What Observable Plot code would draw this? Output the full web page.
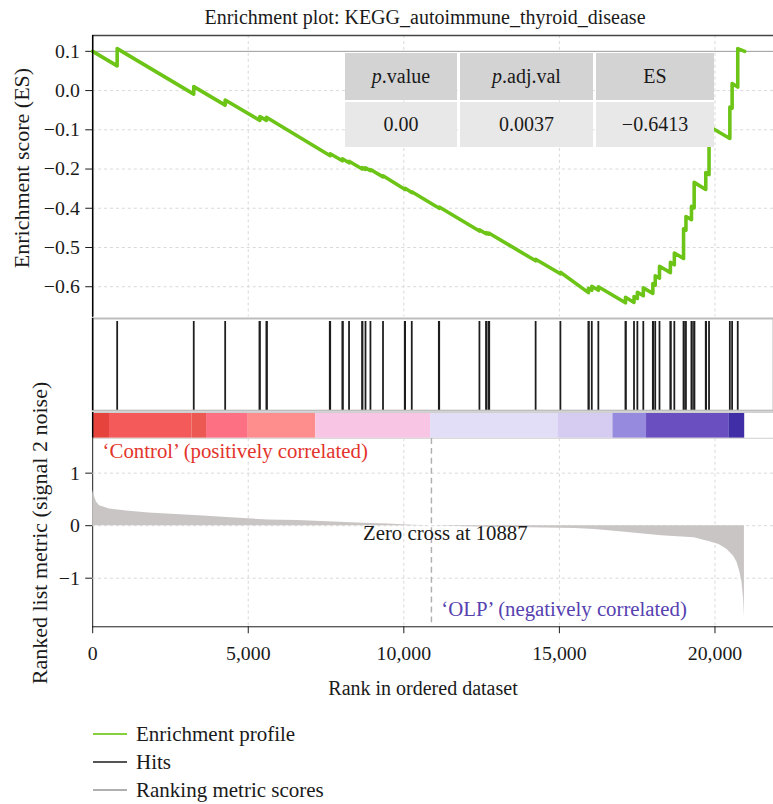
<!DOCTYPE html>
<html>
<head>
<meta charset="utf-8">
<script src="https://cdn.jsdelivr.net/npm/d3@7"></script>
<script src="https://cdn.jsdelivr.net/npm/@observablehq/plot@0.6"></script>
<style>
  html, body { margin: 0; padding: 0; background: #fff; overflow: hidden; }
  #root { position: relative; width: 773px; height: 804px; overflow: hidden; background: #fff;
          font-family: "Liberation Serif", Tinos, "Times New Roman", Times, "DejaVu Serif", "Noto Serif", FreeSerif, serif; color: #1a1a1a; }
  #root svg text { font-family: "Liberation Serif", Tinos, "Times New Roman", Times, "DejaVu Serif", "Noto Serif", FreeSerif, serif; }
  .abs { position: absolute; }
  .txt { white-space: nowrap; }
  .cell { position: absolute; display: flex; align-items: center; justify-content: center; font-size: 20px; }
  .leg { position: absolute; left: 93px; display: flex; align-items: center; font-size: 21px; height: 26px; }
  .leg span.l { display: inline-block; width: 34px; height: 0; margin-right: 9px; }
</style>
</head>
<body>
<div id="root"></div>
<script>
// ---------------- data ----------------
const title = "Enrichment plot: KEGG_autoimmune_thyroid_disease";

// running enrichment score (rank, ES)
const esRank = [0, 787, 787, 3248, 3248, 4258, 4258, 5373, 5373, 5583, 5583, 7634, 7634, 8025, 8025,
  8239, 8239, 8662, 8662, 8768, 8768, 8927, 8927, 9331, 9331, 10041, 10041, 10255, 10255, 11137, 11137,
  12430, 12430, 12643, 12643, 12729, 12729, 14236, 14236, 15032, 15032, 15933, 15933, 16041, 16041,
  16252, 16252, 17124, 17124, 17398, 17398, 17506, 17506, 17697, 17697, 18003, 18003, 18080, 18080,
  18217, 18217, 18567, 18567, 18694, 18694, 18990, 18990, 19067, 19067, 19245, 19245, 19331, 19331,
  19704, 19704, 19809, 19809, 20478, 20478, 20551, 20551, 20732, 20732, 20955];
const esValue = [0, -0.037, 0.007, -0.109, -0.090, -0.137, -0.124, -0.176, -0.166, -0.176, -0.168, -0.266, -0.261, -0.279, -0.274,
  -0.284, -0.280, -0.300, -0.296, -0.301, -0.297, -0.304, -0.301, -0.320, -0.317, -0.352, -0.349, -0.360, -0.358, -0.400, -0.397,
  -0.458, -0.455, -0.465, -0.462, -0.466, -0.463, -0.534, -0.530, -0.567, -0.563, -0.615, -0.604, -0.609, -0.599,
  -0.609, -0.600, -0.641, -0.627, -0.640, -0.625, -0.630, -0.614, -0.623, -0.603, -0.617, -0.592, -0.596, -0.572,
  -0.578, -0.548, -0.564, -0.538, -0.544, -0.514, -0.528, -0.452, -0.456, -0.421, -0.429, -0.395, -0.399, -0.334,
  -0.352, -0.309, -0.314, -0.191, -0.222, -0.142, -0.145, -0.082, -0.091, 0.007, 0.0];

// hit positions (rank of gene-set members)
const hits = [787, 3248, 4258, 5360, 5373, 5583, 5600, 7620, 7634, 8025, 8040, 8239, 8662, 8670, 8768,
  8927, 9331, 10030, 10041, 10255, 11125, 11137, 12430, 12643, 12660, 12729, 12745, 14236, 15032,
  15933, 15945, 16041, 16252, 17124, 17135, 17398, 17506, 17697, 18003, 18015, 18080, 18217, 18567, 18580,
  18694, 18990, 19000, 19067, 19245, 19255, 19331, 19340, 19704, 19715, 19809, 20478, 20551, 20732];

// colour bar of the ranked list (segments, level of correlation)
const segStart = [0, 540, 3190, 3660, 5000, 7170, 10860, 14970, 16720, 17800, 20446];
const segEnd   = [540, 3190, 3660, 5000, 7170, 10860, 14970, 16720, 17800, 20446, 20955];
const segLevel = [5, 4, 3.5, 3, 2, 1, -1, -2, -3, -4, -5];
const levelColors = ["#e5433b", "#f45a5a", "#ec5952", "#fd6f82", "#fe8e8e", "#f8c5e5",
                     "#e3def7", "#d6ccf2", "#958ade", "#6a4fc0", "#3f2ea6"];

// ranked list metric (signal 2 noise)
const metricRank = [0, 30, 64, 120, 223, 541, 1083, 1815, 3408, 4459, 5637, 6592, 7548, 8705, 9500, 10300,
  10887, 12000, 14000, 15500, 16146, 17197, 18280, 19331, 19863, 20127, 20382, 20600, 20710, 20800, 20869, 20920, 20946];
const metricValue = [0.68, 0.60, 0.55, 0.45, 0.38, 0.32, 0.28, 0.24, 0.19, 0.15, 0.11, 0.10, 0.075, 0.045, 0.03, 0.01,
  0, -0.02, -0.04, -0.055, -0.075, -0.13, -0.19, -0.23, -0.31, -0.36, -0.45, -0.58, -0.70, -0.88, -1.08, -1.40, -1.74];
const zeroCross = 10887;

// axis ticks
const xTicks = [0, 5000, 10000, 15000, 20000];
const esTicks = [0, -0.1, -0.2, -0.3, -0.4, -0.5, -0.6];
const esTickLabels = ["0.1", "0.0", "\u22120.1", "\u22120.2", "\u22120.4", "\u22120.5", "\u22120.6"];
const metricTicks = [-1, 0, 1];
const metricTickLabels = ["\u22121", "0", "1"];

// summary table
const tableHeaders = ["p.value", "p.adj.val", "ES"];
const tableValues = ["0.00", "0.0037", "\u22120.6413"];

// legend
const legendLabels = ["Enrichment profile", "Hits", "Ranking metric scores"];

// ---------------- layout ----------------
const W = 780, ML = 93;
const xDomain = [0, 21880];
const FONT = "'Liberation Serif', Tinos, 'Times New Roman', Times, 'DejaVu Serif', 'Noto Serif', serif";
const baseStyle = {fontFamily: FONT, fontSize: "20px", color: "#1a1a1a", background: "transparent", overflow: "visible"};
const gridStyle = {stroke: "#d9d9d9", strokeDasharray: "3,3", strokeWidth: 1};

const esData = esRank.map((r, i) => ({rank: r, es: esValue[i]}));
const segs = segStart.map((s, i) => ({start: s, end: segEnd[i], level: segLevel[i]}));
const metric = metricRank.map((r, i) => ({rank: r, value: metricValue[i]}));
const esLabelMap = new Map(esTicks.map((t, i) => [t, esTickLabels[i]]));
const mLabelMap = new Map(metricTicks.map((t, i) => [t, metricTickLabels[i]]));

const root = document.getElementById("root");
function place(el, top, left = 0) {
  el.style.position = "absolute"; el.style.top = top + "px"; el.style.left = left + "px";
  root.appendChild(el); return el;
}
function html(tag, cls, text, css) {
  const e = document.createElement(tag); if (cls) e.className = cls; if (text != null) e.textContent = text;
  Object.assign(e.style, css || {}); return e;
}

// title
root.appendChild(html("div", "abs txt", title, {left: "425px", top: "17px", transform: "translate(-50%,-50%)", fontSize: "20px"}));

// ---- top panel: enrichment score ----
const esDomain = [-0.677, 0.0404];
const topPlot = Plot.plot({
  width: W, height: 284, marginLeft: ML, marginRight: 0, marginTop: 0, marginBottom: 0,
  style: baseStyle,
  x: {domain: xDomain, axis: null},
  y: {domain: esDomain, ticks: esTicks, tickFormat: d => esLabelMap.get(d), tickSize: 7, tickPadding: 6, line: true, label: null},
  marks: [
    Plot.ruleY(esTicks.slice(1), gridStyle),
    Plot.ruleX(xTicks.slice(1), gridStyle),
    Plot.ruleY([0], {stroke: "#9a9a9a", strokeWidth: 1}),
    Plot.line(esData, {x: "rank", y: "es", stroke: "#6cc417", strokeWidth: 3.6, strokeLinejoin: "round"}),
    Plot.ruleY([esDomain[1]], {stroke: "#444", strokeWidth: 1.5}),
    Plot.ruleX([0], {stroke: "#000", strokeWidth: 1.5})
  ]
});
place(topPlot, 35);

// ---- hits panel ----
const hitsPlot = Plot.plot({
  width: W, height: 93, marginLeft: ML, marginRight: 0, marginTop: 0, marginBottom: 0,
  style: baseStyle,
  x: {domain: xDomain, axis: null},
  marks: [
    Plot.ruleX(hits, {x: d => d, stroke: "#1e1e1e", strokeWidth: 1.8, insetTop: 3}),
    Plot.frame({stroke: "#bdbdbd", strokeWidth: 2}),
    Plot.ruleX([0], {stroke: "#000", strokeWidth: 1.5})
  ]
});
place(hitsPlot, 318);

// ---- colour bar ----
const barPlot = Plot.plot({
  width: W, height: 26, marginLeft: ML, marginRight: 0, marginTop: 0, marginBottom: 0,
  style: baseStyle,
  x: {domain: xDomain, axis: null},
  color: {type: "ordinal", domain: segLevel, range: levelColors},
  marks: [
    Plot.rect(segs, {x1: "start", x2: "end", fill: "level"}),
    Plot.frame({stroke: "#cfcfcf", strokeWidth: 1}),
    Plot.ruleX([0], {stroke: "#000", strokeWidth: 1.5})
  ]
});
place(barPlot, 412);

// ---- ranked list metric ----
const mDomain = [-1.925, 1.66];
const bottomPlot = Plot.plot({
  width: W, height: 265, marginLeft: ML, marginRight: 0, marginTop: 0, marginBottom: 75,
  style: baseStyle,
  x: {domain: xDomain, ticks: xTicks, tickSize: 7, tickPadding: 12, line: true, label: null},
  y: {domain: mDomain, ticks: metricTicks, tickFormat: d => mLabelMap.get(d), tickSize: 7, tickPadding: 6, line: true, label: null},
  marks: [
    Plot.ruleY(metricTicks, gridStyle),
    Plot.ruleX(xTicks.slice(1), gridStyle),
    Plot.areaY(metric, {x: "rank", y: "value", fill: "#c9c5c4"}),
    Plot.ruleX([zeroCross], {stroke: "#b0b0b0", strokeWidth: 1.5, strokeDasharray: "6,4"}),
    Plot.text(["\u2018Control\u2019 (positively correlated)"], {frameAnchor: "top-left", textAnchor: "start", lineAnchor: "top", dx: 10, dy: 5, fill: "#e3342b", fontSize: 21}),
    Plot.text(["Zero cross at " + zeroCross], {x: zeroCross, y: 0, textAnchor: "middle", lineAnchor: "middle", dx: 14, dy: 8, fill: "#1a1a1a", fontSize: 21}),
    Plot.text(["\u2018OLP\u2019 (negatively correlated)"], {x: zeroCross, frameAnchor: "bottom", textAnchor: "start", lineAnchor: "bottom", dx: 10, dy: -11, fill: "#5641b0", fontSize: 21})
  ]
});
place(bottomPlot, 438);

// axis titles
root.appendChild(html("div", "abs txt", "Enrichment score (ES)", {left: "22px", top: "168px", transform: "translate(-50%,-50%) rotate(-90deg)", fontSize: "22px"}));
root.appendChild(html("div", "abs txt", "Ranked list metric (signal 2 noise)", {left: "40px", top: "533px", transform: "translate(-50%,-50%) rotate(-90deg)", fontSize: "22px"}));
root.appendChild(html("div", "abs txt", "Rank in ordered dataset", {left: "423px", top: "688px", transform: "translate(-50%,-50%)", fontSize: "20px"}));

// summary table
const colLeft = [345, 460, 596], colWidth = [112, 133, 118];
tableHeaders.forEach((h, i) => {
  const c = html("div", "cell", null, {left: colLeft[i] + "px", top: "53px", width: colWidth[i] + "px", height: "47px", background: "#d4d3d3"});
  if (h.startsWith("p.")) { const it = html("i", null, "p"); c.appendChild(it); c.appendChild(document.createTextNode(h.slice(1))); }
  else c.textContent = h;
  root.appendChild(c);
  root.appendChild(html("div", "cell", tableValues[i], {left: colLeft[i] + "px", top: "102px", width: colWidth[i] + "px", height: "45px", background: "#e9e8e8"}));
});

// legend
const legendColors = ["#86cf3f", "#555555", "#b0b0b0"];
legendLabels.forEach((l, i) => {
  const row = html("div", "leg", null, {top: (721 + i * 28) + "px"});
  const ln = html("span", "l", null, {borderTop: "2px solid " + legendColors[i]});
  row.appendChild(ln); row.appendChild(document.createTextNode(l));
  root.appendChild(row);
});
</script>
</body>
</html>
